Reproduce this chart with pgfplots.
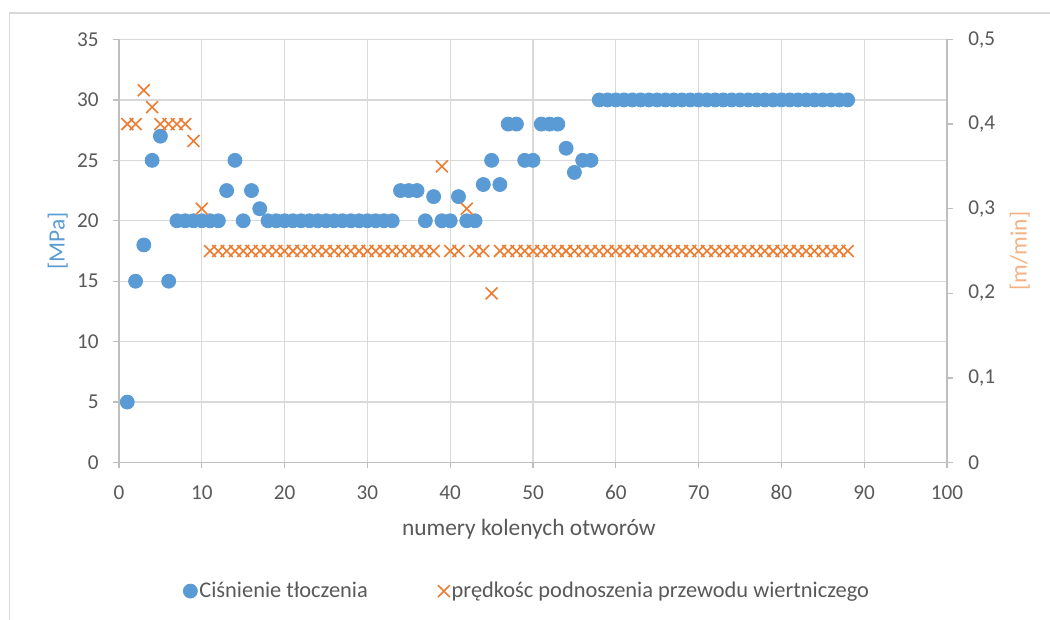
\documentclass[border=0pt]{standalone}
\usepackage{pgfplots}
\pgfplotsset{compat=1.18}
\usepackage{fontspec}
\setmainfont{Carlito}
\definecolor{cblue}{HTML}{5B9BD5}
\definecolor{corange}{HTML}{ED7D31}
\definecolor{clorange}{HTML}{F4B183}
\definecolor{ctext}{HTML}{595959}
\definecolor{cgrid}{HTML}{D9D9D9}
\definecolor{caxis}{HTML}{BFBFBF}

\pgfplotstableread{
x y
1 5
2 15
3 18
4 25
5 27
6 15
7 20
8 20
9 20
10 20
11 20
12 20
13 22.5
14 25
15 20
16 22.5
17 21
18 20
19 20
20 20
21 20
22 20
23 20
24 20
25 20
26 20
27 20
28 20
29 20
30 20
31 20
32 20
33 20
34 22.5
35 22.5
36 22.5
37 20
38 22
39 20
40 20
41 22
42 20
43 20
44 23
45 25
46 23
47 28
48 28
49 25
50 25
51 28
52 28
53 28
54 26
55 24
56 25
57 25
58 30
59 30
60 30
61 30
62 30
63 30
64 30
65 30
66 30
67 30
68 30
69 30
70 30
71 30
72 30
73 30
74 30
75 30
76 30
77 30
78 30
79 30
80 30
81 30
82 30
83 30
84 30
85 30
86 30
87 30
88 30
}\pressure

\pgfplotstableread{
x y
1 0.40
2 0.40
3 0.44
4 0.42
5 0.40
6 0.40
7 0.40
8 0.40
9 0.38
10 0.30
11 0.25
12 0.25
13 0.25
14 0.25
15 0.25
16 0.25
17 0.25
18 0.25
19 0.25
20 0.25
21 0.25
22 0.25
23 0.25
24 0.25
25 0.25
26 0.25
27 0.25
28 0.25
29 0.25
30 0.25
31 0.25
32 0.25
33 0.25
34 0.25
35 0.25
36 0.25
37 0.25
38 0.25
39 0.35
40 0.25
41 0.25
42 0.30
43 0.25
44 0.25
45 0.20
46 0.25
47 0.25
48 0.25
49 0.25
50 0.25
51 0.25
52 0.25
53 0.25
54 0.25
55 0.25
56 0.25
57 0.25
58 0.25
59 0.25
60 0.25
61 0.25
62 0.25
63 0.25
64 0.25
65 0.25
66 0.25
67 0.25
68 0.25
69 0.25
70 0.25
71 0.25
72 0.25
73 0.25
74 0.25
75 0.25
76 0.25
77 0.25
78 0.25
79 0.25
80 0.25
81 0.25
82 0.25
83 0.25
84 0.25
85 0.25
86 0.25
87 0.25
88 0.25
}\speed

\pgfplotsset{
  common/.style={
    at={(59.5pt,78.75pt)}, anchor=south west, scale only axis,
    width=414pt, height=211.5pt,
    xmin=0, xmax=100,
    font=\fontsize{11.7}{14}\selectfont,
    tick label style={font=\fontsize{10.6}{12.6}\selectfont, text=ctext},
    /pgf/number format/assume math mode=true,
    tick align=outside, major tick length=3pt,
    tick style={caxis, line width=0.65pt},
    axis line style={caxis, line width=0.7pt},
  },
  xmark/.style={only marks, mark=x, mark size=4.2pt, mark options={draw=corange, line width=0.8pt}},
}

\begin{document}
\begin{tikzpicture}[x=1pt,y=1pt]
\useasboundingbox (0,0) rectangle (525,310);
\fill[white] (0,0) rectangle (525,310);
\draw[cgrid, line width=0.7pt] (4.8,0) -- (4.8,303.4) -- (525,303.4);
\begin{axis}[
  common,
  ymin=0, ymax=35,
  xtick={0,10,...,100}, ytick={0,5,...,35},
  axis y line*=left, axis x line*=bottom,
  xmajorgrids, ymajorgrids,
  grid style={cgrid, line width=0.65pt},
  xticklabel style={anchor=center, inner sep=0pt, yshift=-12pt},
  yticklabel style={anchor=east, inner sep=0pt, xshift=-7pt},
  xlabel={numery kolenych otworów},
  ylabel={[MPa]},
  every axis x label/.style={at={(axis description cs:0.495,-0.157)}, anchor=center, text=ctext},
  every axis y label/.style={at={(axis description cs:-0.074,0.524)}, anchor=center, rotate=90, text=cblue},
  legend columns=2,
  legend style={draw=none, fill=none, at={(axis description cs:0.493,-0.304)}, anchor=center,
    font=\fontsize{11.2}{13.4}\selectfont, text=ctext,
    nodes={inner xsep=1pt},
    /tikz/every even column/.append style={column sep=34pt}},
  legend cell align=left,
]
\addplot[only marks, mark=*, mark size=3.5pt, mark options={draw=cblue, fill=cblue}] table[x=x,y=y] {\pressure};
\addlegendentry{Ciśnienie tłoczenia}
\addlegendimage{xmark}
\addlegendentry{prędkośc podnoszenia przewodu wiertniczego}
\end{axis}
\begin{axis}[
  common,
  ymin=0, ymax=0.5,
  axis y line*=right, axis x line=none,
  ytick={0,0.1,0.2,0.3,0.4,0.5},
  yticklabel style={anchor=west, inner sep=0pt, xshift=7.5pt,
    /pgf/number format/.cd, fixed, precision=1, use comma},
  ylabel={[m/min]},
  every axis y label/.style={at={(axis description cs:1.088,0.5)}, anchor=center, rotate=90, text=clorange},
]
\addplot[xmark] table[x=x,y=y] {\speed};
\end{axis}
\end{tikzpicture}
\end{document}
